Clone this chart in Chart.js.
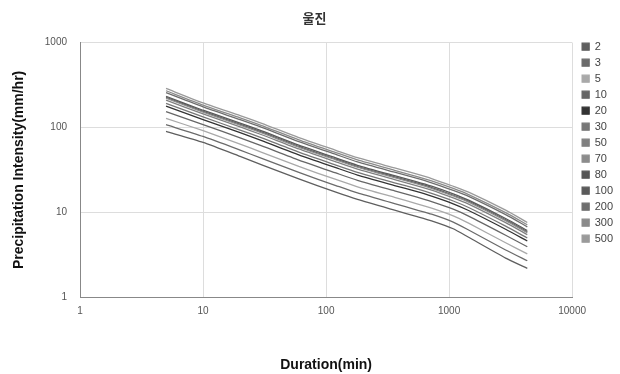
<!DOCTYPE html>
<html>
<head>
<meta charset="utf-8">
<script src="https://cdn.jsdelivr.net/npm/chart.js@4"></script>
<style>
  html, body { margin: 0; padding: 0; background: #fff; }
  #wrap { width: 620px; height: 374px; }
</style>
</head>
<body>
<div id="wrap"><canvas id="idf"></canvas></div>
<script>
// durations (min)
const durations = [5, 10, 20, 30, 60, 120, 180, 360, 540, 720, 1080, 1440, 2880, 4320];

// return periods (yr) -> legend labels
const periods = ["2", "3", "5", "10", "20", "30", "50", "70", "80", "100", "200", "300", "500"];

// intensity (mm/hr) per return period
const t2   = [89.7, 66.6, 45.6, 36.3, 24.8, 17.3, 14.2, 10.6, 8.97, 7.94, 6.41, 5.08, 2.89, 2.19];
const t3   = [107.9, 78.4, 54.1, 43.2, 29.5, 20.7, 16.9, 12.7, 10.7, 9.50, 7.68, 6.20, 3.60, 2.69];
const t5   = [128.1, 91.5, 63.5, 51.0, 34.7, 24.4, 20.0, 15.0, 12.7, 11.2, 9.10, 7.45, 4.38, 3.24];
const t10  = [153.6, 108.0, 75.4, 60.7, 41.3, 29.1, 23.8, 17.9, 15.2, 13.4, 10.9, 9.02, 5.37, 3.93];
const t20  = [178.0, 123.8, 86.8, 70.0, 47.6, 33.6, 27.5, 20.7, 17.6, 15.5, 12.6, 10.5, 6.32, 4.60];
const t30  = [192.0, 132.9, 93.3, 75.4, 51.2, 36.1, 29.6, 22.3, 19.0, 16.7, 13.6, 11.4, 6.87, 4.98];
const t50  = [209.6, 144.2, 101.5, 82.1, 55.8, 39.4, 32.2, 24.3, 20.7, 18.3, 14.8, 12.5, 7.55, 5.46];
const t70  = [221.1, 151.7, 106.8, 86.5, 58.7, 41.5, 34.0, 25.6, 21.8, 19.2, 15.6, 13.2, 8.00, 5.77];
const t80  = [225.7, 154.6, 109.0, 88.2, 59.9, 42.3, 34.6, 26.2, 22.2, 19.6, 15.9, 13.5, 8.18, 5.90];
const t100 = [233.3, 159.6, 112.5, 91.1, 61.9, 43.7, 35.8, 27.0, 23.0, 20.3, 16.5, 13.9, 8.47, 6.11];
const t200 = [256.9, 174.8, 123.5, 100.1, 68.0, 48.1, 39.3, 29.7, 25.3, 22.3, 18.1, 15.4, 9.39, 6.75];
const t300 = [270.7, 183.8, 129.9, 105.4, 71.5, 50.6, 41.4, 31.3, 26.6, 23.5, 19.1, 16.2, 9.93, 7.13];
const t500 = [288.0, 195.0, 138.0, 112.0, 76.0, 53.8, 44.0, 33.3, 28.3, 25.0, 20.3, 17.3, 10.6, 7.6];

const xTicks = [1, 10, 100, 1000, 10000];
const yTicks = [1, 10, 100, 1000];

const series = [t2, t3, t5, t10, t20, t30, t50, t70, t80, t100, t200, t300, t500];
const colors = ["#5f5f5f", "#6b6b6b", "#a9a9a9", "#666666", "#333333", "#777777", "#808080",
                "#8c8c8c", "#555555", "#5a5a5a", "#6e6e6e", "#8a8a8a", "#9a9a9a"];

const datasets = series.map((vals, i) => ({
  label: periods[i],
  data: vals.map((v, j) => ({ x: durations[j], y: v })),
  borderColor: colors[i],
  backgroundColor: colors[i],
  borderWidth: 1.3,
  pointRadius: 0,
  tension: 0.2,
}));

const FONT = "'Liberation Sans', Arial, sans-serif";

// nudge the legend a bit away from the plot
const legendNudge = {
  id: "legendNudge",
  afterLayout(chart) {
    const lg = chart.legend;
    if (lg) { lg.left += 5; lg.right += 5; }
  },
};

new Chart(document.getElementById("idf"), {
  type: "line",
  data: { datasets: datasets },
  plugins: [legendNudge],
  options: {
    responsive: true,
    maintainAspectRatio: false,
    animation: false,
    layout: { padding: { left: 11, right: 2, top: 0, bottom: 0 } },
    plugins: {
      title: {
        display: true,
        text: "울진",
        color: "#333",
        font: { family: "'Noto Sans CJK KR', sans-serif", size: 13, weight: "bold" },
        padding: { top: 10, bottom: 17 },
      },
      legend: {
        position: "right",
        align: "start",
        title: {
          display: true,
          text: " ",
          font: { size: 11 },
          padding: { top: 12, bottom: 11 },
        },
        labels: {
          boxWidth: 7,
          boxHeight: 7,
          padding: 5,
          color: "#444",
          font: { family: FONT, size: 11 },
        },
      },
      tooltip: { enabled: false },
    },
    scales: {
      x: {
        type: "logarithmic",
        min: 1,
        max: 10000,
        afterBuildTicks: (axis) => { axis.ticks = xTicks.map(v => ({ value: v })); },
        ticks: {
          color: "#555",
          font: { family: FONT, size: 10 },
          padding: 8,
          maxRotation: 0,
          callback: (v) => String(v),
        },
        grid: { color: "#dddddd", drawTicks: false },
        border: { color: "#888" },
        title: {
          display: true,
          text: "Duration(min)",
          color: "#111",
          font: { family: FONT, size: 14, weight: "bold" },
          padding: { top: 32, bottom: 0 },
        },
      },
      y: {
        type: "logarithmic",
        min: 1,
        max: 1000,
        afterBuildTicks: (axis) => { axis.ticks = yTicks.map(v => ({ value: v })); },
        ticks: {
          color: "#555",
          font: { family: FONT, size: 10 },
          padding: 13,
          callback: (v) => String(v),
        },
        grid: { color: "#dddddd", drawTicks: false },
        border: { color: "#888" },
        title: {
          display: true,
          text: "Precipitation Intensity(mm/hr)",
          color: "#111",
          font: { family: FONT, size: 14, weight: "bold" },
          padding: { top: 0, bottom: 4 },
        },
      },
    },
  },
});
</script>
</body>
</html>
